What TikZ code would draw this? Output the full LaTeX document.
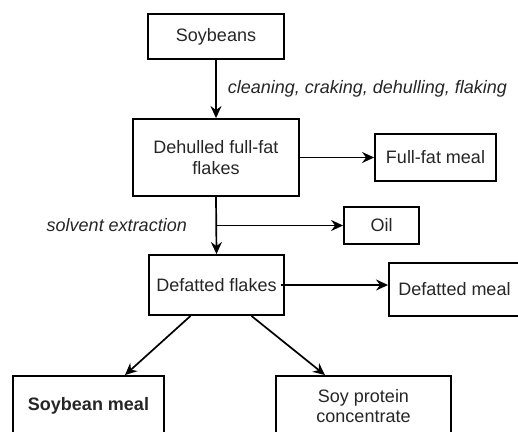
\documentclass[tikz,border=0pt]{standalone}
\usepackage{fontspec}
\setmainfont{Liberation Sans}
\usetikzlibrary{arrows.meta}
\begin{document}
\begin{tikzpicture}[x=1pt,y=-1pt,
  every node/.style={font=\fontsize{18}{20.5}\selectfont, text=black!85},
  box/.style={draw=black, line width=1.9pt, rectangle, align=center, inner sep=0pt},
  flow/.style={line width=1.7pt, -{Stealth[length=12pt,width=11pt,inset=4pt]}},
  note/.style={font=\fontsize{18}{20.5}\selectfont\itshape, inner sep=0pt}]
  \useasboundingbox (0,0) rectangle (518,431);
  \fill[white] (0,0) rectangle (518,431);
  \begin{scope}
  \clip (0,0) rectangle (518,431);
  % process chain
  \node[box, minimum width=136pt, minimum height=45pt] (soy) at (216,36.5) {Soybeans};
  \node[box, minimum width=166pt, minimum height=77pt] (dhf) at (216,157.5) {Dehulled full-fat\\flakes};
  \node[box, minimum width=121pt, minimum height=47pt] (ffm) at (435.5,157.5) {Full-fat meal};
  \node[box, minimum width=75pt, minimum height=37pt] (oil) at (381.5,225.5) {Oil};
  \node[box, minimum width=135pt, minimum height=60pt] (dff) at (216.5,285) {Defatted flakes};
  \node[box, minimum width=131pt, minimum height=53pt] (dfm) at (454.5,289.5) {Defatted meal};
  % end products
  \node[box, minimum width=151pt, minimum height=60pt] (sbm) at (88.5,406) {\bfseries Soybean meal};
  \node[box, minimum width=175pt, minimum height=60pt] (spc) at (363.5,406) {Soy protein\\concentrate};
  \end{scope}
  % connectors
  \draw[flow] (soy.south) -- (dhf.north)
    node[pos=0.5, note, anchor=west, xshift=11pt] {cleaning, craking, dehulling, flaking};
  \draw[flow] (dhf.east) -- (ffm.west);
  \draw[flow] (dhf.south) -- (dff.north);
  \coordinate (split) at (dhf.south |- oil.west);
  \draw[flow] (split) -- (oil.west);
  \node[note, anchor=east] (solv) at ([xshift=-29pt]split) {solvent extraction};
  \draw[flow] ([xshift=-4pt]dff.east) -- (dfm.west |- dff.east);
  \draw[flow] ([xshift=-26pt]dff.south) -- ([xshift=36.5pt]sbm.north);
  \draw[flow] ([xshift=35pt]dff.south) -- ([xshift=-38.5pt]spc.north);
\end{tikzpicture}
\end{document}
